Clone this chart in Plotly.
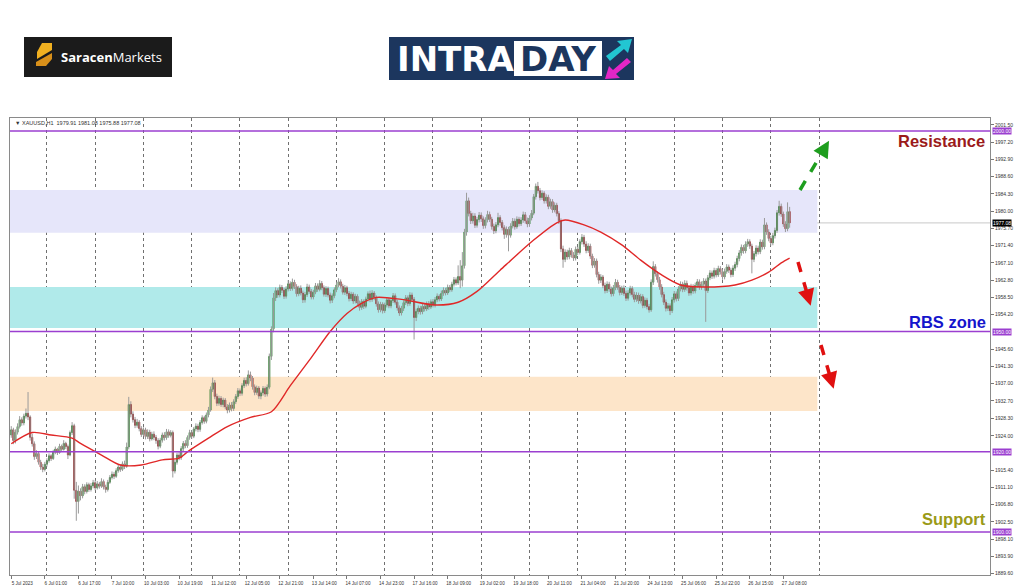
import plotly.graph_objects as go

# ---------------- data (XAUUSD H1) ----------------
opens = [
    1924.2, 1925.5, 1922.8, 1924.9, 1926.3, 1928.0, 1927.2, 1928.9, 1929.6, 1928.7,
    1923.6, 1922.0, 1918.8, 1919.6, 1917.4, 1916.2, 1915.6,
    1916.9, 1917.8, 1919.0, 1918.3, 1919.9, 1920.7, 1919.8, 1921.4, 1920.6, 1922.1,
    1921.3, 1919.2, 1924.8, 1926.5,
    1910.4, 1907.6, 1910.2, 1909.0, 1911.3, 1910.1, 1911.8, 1910.6, 1911.5,
    1912.3, 1911.0, 1912.0, 1911.4, 1912.6, 1911.2, 1910.6,
    1912.4, 1913.6, 1914.4, 1913.9, 1915.3, 1916.2, 1915.6, 1917.0,
    1916.4, 1921.2, 1931.8,
    1929.4, 1928.0, 1926.6, 1927.4, 1925.8, 1924.3, 1925.5, 1923.8, 1924.9, 1923.2, 1924.4,
    1923.6, 1922.8, 1921.4, 1922.9, 1924.2, 1923.5, 1925.0, 1924.1, 1924.8,
    1915.2, 1917.4, 1919.2, 1918.6, 1920.8, 1922.1, 1921.5,
    1923.6, 1924.8, 1923.9, 1925.7, 1926.4, 1925.6, 1927.3, 1928.5, 1927.6, 1929.2,
    1930.4, 1935.6, 1937.2, 1933.8,
    1932.1, 1933.3, 1931.8, 1932.9, 1931.2, 1930.4, 1931.7, 1930.8,
    1932.5, 1933.8, 1935.2, 1934.6, 1936.5, 1937.8, 1937.0, 1939.2,
    1938.4, 1936.2, 1934.8, 1935.9, 1933.9, 1934.7, 1935.8, 1934.4,
    1936.1, 1943.8, 1950.6,
    1958.4, 1960.2, 1959.1, 1961.0, 1960.3, 1958.8, 1960.6, 1961.9, 1960.7, 1962.3,
    1961.2, 1959.4, 1960.8, 1959.6, 1957.9, 1959.2, 1961.1, 1960.0, 1958.6, 1959.8,
    1961.4, 1960.5, 1962.0, 1960.9, 1959.3, 1960.7, 1959.1, 1957.8, 1958.9, 1960.4,
    1961.6, 1962.4, 1961.3, 1959.8, 1960.9,
    1959.5, 1958.2, 1959.3, 1957.6, 1958.8, 1957.1, 1956.0, 1957.5, 1956.3, 1958.1,
    1959.4, 1958.0, 1959.6, 1958.5, 1956.9, 1955.4, 1956.8, 1955.2, 1956.6, 1957.9,
    1956.4, 1957.7, 1958.9, 1957.3, 1955.9, 1954.6, 1955.8, 1957.2, 1958.4, 1957.0, 1959.1, 1958.0,
    1953.5, 1955.0, 1955.8, 1954.9, 1956.3, 1955.6, 1956.9, 1956.1, 1957.4,
    1956.6, 1957.9, 1958.8, 1958.1, 1959.5, 1960.3, 1959.6, 1961.0, 1960.4, 1961.8, 1962.9, 1962.1, 1963.7,
    1962.8, 1966.4, 1974.8,
    1982.6, 1979.4, 1977.6, 1978.8, 1976.5, 1977.9, 1979.0,
    1978.1, 1976.4, 1977.8, 1979.2, 1978.0, 1976.2, 1975.1, 1976.6, 1978.4, 1977.2, 1975.9, 1974.2, 1975.5,
    1974.0, 1976.3, 1977.5, 1976.1, 1978.0, 1976.9, 1977.8, 1979.1, 1977.6, 1976.8, 1978.3,
    1979.5, 1983.6, 1986.2, 1985.1,
    1983.4, 1984.5, 1982.6, 1983.5, 1981.2, 1982.4, 1980.3, 1981.5, 1979.4,
    1977.6, 1970.6,
    1968.0, 1969.8, 1968.6, 1970.2, 1969.1, 1968.3, 1970.5,
    1969.7, 1972.4, 1973.5,
    1971.8, 1970.2, 1971.3, 1968.8, 1966.5, 1967.6, 1964.2, 1962.8,
    1963.6, 1961.5, 1960.2, 1961.8, 1960.6, 1959.4, 1960.9, 1962.3, 1961.0, 1959.7,
    1960.8, 1959.5, 1958.3, 1959.6, 1960.7, 1959.2, 1958.0, 1959.1, 1957.6,
    1958.7, 1956.5, 1957.8, 1956.2, 1955.4, 1962.3,
    1966.2, 1964.4, 1962.9, 1961.1, 1959.2, 1957.3, 1955.8, 1956.4,
    1955.2, 1957.9, 1959.4, 1958.2, 1960.6, 1961.8, 1960.5, 1962.0, 1960.9, 1959.6, 1961.2, 1960.1, 1961.5, 1962.4,
    1961.1, 1961.8, 1962.6, 1960.2,
    1963.4, 1964.6, 1963.8, 1965.2, 1964.1, 1965.7, 1964.9, 1963.6, 1965.0, 1966.1, 1965.3, 1964.2, 1965.8,
    1966.7, 1968.2, 1969.6, 1971.0, 1970.1, 1971.8, 1972.4, 1971.3,
    1968.0, 1969.4, 1970.8, 1969.9, 1972.3, 1971.1,
    1976.6, 1974.8, 1973.2, 1972.1, 1973.9,
    1975.2, 1979.6, 1981.2, 1979.3, 1976.8, 1975.6, 1979.91,
]

highs = [
    1926.4, 1926.0, 1925.6, 1927.1, 1928.9, 1928.6, 1929.5, 1930.8, 1934.9, 1929.1,
    1924.5, 1922.6, 1920.4, 1920.1, 1918.0, 1917.0, 1917.5,
    1918.4, 1919.6, 1919.4, 1920.5, 1921.3, 1921.0, 1922.0, 1921.8, 1922.9, 1922.5,
    1921.8, 1925.3, 1927.4, 1927.0,
    1912.5, 1911.6, 1910.9, 1912.0, 1911.9, 1912.4, 1912.3, 1912.2, 1913.0,
    1912.9, 1912.7, 1912.5, 1913.4, 1913.1, 1911.8, 1913.0,
    1914.2, 1915.1, 1915.0, 1915.9, 1916.8, 1916.9, 1917.6, 1917.8,
    1922.3, 1933.7, 1932.6,
    1930.1, 1928.7, 1928.2, 1927.9, 1926.4, 1926.1, 1926.0, 1925.6, 1925.5, 1925.0, 1925.1,
    1924.2, 1923.4, 1923.5, 1924.8, 1924.9, 1925.7, 1925.6, 1925.4, 1925.3,
    1918.0, 1919.8, 1920.0, 1921.4, 1922.7, 1922.9, 1924.1,
    1925.5, 1925.4, 1926.2, 1927.1, 1927.0, 1927.9, 1929.1, 1929.0, 1929.8, 1931.2,
    1936.3, 1938.5, 1937.9, 1934.5,
    1934.0, 1933.9, 1933.5, 1933.4, 1931.9, 1932.3, 1932.4, 1933.1,
    1934.4, 1935.9, 1935.8, 1937.1, 1938.5, 1938.6, 1940.3, 1940.0,
    1938.9, 1936.8, 1936.5, 1936.4, 1935.3, 1936.4, 1936.3, 1936.8,
    1944.5, 1951.3, 1959.6,
    1961.0, 1960.8, 1961.7, 1961.6, 1960.9, 1961.3, 1962.8, 1962.5, 1963.2, 1962.9,
    1961.8, 1961.4, 1961.5, 1960.2, 1959.9, 1961.9, 1961.7, 1960.6, 1960.4, 1962.1,
    1962.0, 1962.8, 1962.6, 1961.5, 1961.3, 1961.2, 1959.7, 1959.5, 1961.0, 1962.3,
    1963.3, 1963.0, 1961.9, 1961.6, 1961.4,
    1960.1, 1959.9, 1959.8, 1959.4, 1959.3, 1957.7, 1958.1, 1958.0, 1958.7, 1960.0,
    1960.2, 1960.3, 1960.1, 1959.0, 1957.5, 1957.4, 1957.3, 1957.2, 1958.5, 1958.4,
    1958.3, 1959.6, 1959.5, 1957.9, 1956.5, 1956.4, 1957.8, 1959.1, 1959.0, 1959.8, 1959.7, 1958.6,
    1955.7, 1956.5, 1956.4, 1956.9, 1956.9, 1957.5, 1957.6, 1958.0, 1958.1,
    1958.6, 1959.5, 1959.3, 1960.2, 1961.0, 1960.9, 1961.7, 1961.6, 1962.4, 1963.6, 1963.5, 1966.5, 1967.8,
    1969.8, 1975.6, 1984.6,
    1983.4, 1980.1, 1979.6, 1979.5, 1978.6, 1979.8, 1979.7,
    1978.7, 1978.5, 1980.1, 1979.9, 1978.6, 1976.9, 1977.3, 1979.6, 1979.0, 1977.8, 1976.5, 1976.2, 1976.1,
    1977.0, 1978.3, 1978.2, 1978.7, 1978.6, 1978.5, 1979.9, 1979.8, 1978.4, 1979.0, 1980.3,
    1984.3, 1986.9, 1987.3, 1985.8,
    1985.2, 1985.0, 1984.2, 1984.1, 1983.1, 1983.0, 1982.2, 1982.1, 1980.0,
    1978.2, 1971.4,
    1970.5, 1970.4, 1970.9, 1970.8, 1969.8, 1971.2, 1971.1,
    1973.0, 1974.3, 1974.1,
    1972.5, 1972.0, 1971.9, 1969.4, 1968.3, 1968.2, 1964.9, 1964.3,
    1964.1, 1962.2, 1962.5, 1962.4, 1961.2, 1961.6, 1963.1, 1962.9, 1961.6, 1961.4,
    1961.5, 1960.2, 1960.3, 1961.4, 1961.3, 1959.9, 1959.8, 1959.7, 1959.4,
    1959.3, 1958.5, 1958.4, 1956.9, 1963.0, 1967.5,
    1966.8, 1965.0, 1963.6, 1961.8, 1959.9, 1958.0, 1957.1, 1957.0,
    1958.6, 1960.1, 1960.0, 1961.3, 1962.5, 1962.4, 1962.8, 1962.7, 1961.5, 1961.9, 1961.8, 1962.2, 1963.1, 1963.0,
    1962.5, 1963.3, 1963.2, 1964.1,
    1965.3, 1965.2, 1965.9, 1965.8, 1966.4, 1966.3, 1965.5, 1965.7, 1966.8, 1966.7, 1965.9, 1966.5, 1967.4,
    1968.9, 1970.3, 1971.7, 1971.6, 1972.5, 1973.1, 1973.0, 1971.9,
    1970.1, 1971.5, 1971.4, 1973.0, 1972.9, 1978.3,
    1977.2, 1975.5, 1973.9, 1974.6, 1975.9,
    1980.3, 1982.6, 1981.9, 1979.9, 1977.5, 1982.2, 1981.08,
]

lows = [
    1923.5, 1921.9, 1922.1, 1924.3, 1925.8, 1926.5, 1926.6, 1928.3, 1927.9, 1922.8,
    1921.3, 1918.0, 1918.2, 1916.8, 1915.5, 1914.9, 1915.1,
    1916.3, 1917.3, 1917.7, 1918.0, 1919.4, 1919.2, 1919.5, 1920.0, 1920.3, 1920.7,
    1918.2, 1918.9, 1924.2, 1908.3,
    1902.8, 1904.6, 1907.9, 1908.4, 1909.4, 1909.6, 1910.0, 1910.1, 1910.9,
    1910.4, 1910.6, 1910.8, 1911.0, 1910.6, 1909.8, 1910.1,
    1912.0, 1913.1, 1913.2, 1913.5, 1914.8, 1915.0, 1915.2, 1915.7,
    1916.0, 1920.6, 1928.6,
    1927.3, 1925.9, 1926.0, 1925.1, 1923.7, 1923.9, 1923.1, 1923.2, 1922.6, 1922.8, 1922.9,
    1922.0, 1920.6, 1920.9, 1922.3, 1922.8, 1923.0, 1923.5, 1923.6, 1913.6,
    1914.6, 1916.8, 1917.9, 1918.0, 1920.2, 1920.9, 1921.0,
    1923.0, 1923.2, 1923.4, 1925.1, 1924.9, 1925.0, 1926.8, 1927.0, 1927.1, 1928.6,
    1930.0, 1934.9, 1933.1, 1931.4,
    1931.5, 1931.2, 1931.1, 1930.6, 1929.6, 1929.8, 1930.1, 1930.2,
    1931.9, 1933.2, 1933.9, 1934.0, 1935.9, 1936.3, 1936.5, 1937.6,
    1935.5, 1934.1, 1934.2, 1933.2, 1933.1, 1934.0, 1933.7, 1933.8,
    1935.6, 1942.9, 1949.8,
    1957.6, 1958.4, 1958.5, 1959.6, 1958.1, 1958.2, 1960.0, 1960.1, 1960.2, 1960.6,
    1958.7, 1958.8, 1959.0, 1957.1, 1957.2, 1958.6, 1959.4, 1958.0, 1958.0, 1959.3,
    1959.9, 1960.0, 1960.3, 1958.7, 1958.6, 1958.5, 1957.0, 1957.1, 1958.3, 1959.8,
    1961.0, 1960.7, 1959.2, 1959.1, 1958.8,
    1957.5, 1957.6, 1956.9, 1957.0, 1956.4, 1955.2, 1955.4, 1955.6, 1955.8, 1957.5,
    1957.3, 1957.4, 1957.8, 1956.2, 1954.7, 1954.8, 1954.5, 1954.6, 1956.0, 1955.8,
    1955.8, 1957.1, 1956.7, 1955.2, 1953.9, 1954.0, 1955.1, 1956.6, 1956.3, 1956.4, 1957.4, 1948.0,
    1952.6, 1954.3, 1954.2, 1954.3, 1955.0, 1955.1, 1955.4, 1955.6, 1956.0,
    1956.0, 1957.3, 1957.5, 1957.6, 1958.9, 1959.0, 1959.1, 1959.8, 1959.9, 1961.2, 1961.5, 1961.6, 1960.8,
    1961.2, 1965.7, 1973.9,
    1978.7, 1976.8, 1976.9, 1975.8, 1975.9, 1977.2, 1977.3,
    1975.6, 1975.7, 1977.2, 1977.3, 1975.4, 1974.3, 1974.5, 1976.0, 1976.4, 1975.2, 1973.1, 1973.4, 1970.0,
    1973.4, 1975.7, 1975.4, 1975.6, 1976.2, 1976.3, 1977.1, 1976.9, 1976.0, 1976.1, 1977.7,
    1979.0, 1982.9, 1984.4, 1982.7,
    1982.8, 1981.9, 1981.9, 1980.5, 1980.6, 1979.6, 1979.7, 1978.7, 1976.8,
    1969.8, 1965.9,
    1967.3, 1967.9, 1968.0, 1968.4, 1967.6, 1967.7, 1969.0,
    1969.2, 1971.7, 1971.1,
    1969.5, 1969.6, 1968.1, 1965.8, 1965.9, 1963.5, 1961.9, 1962.1,
    1960.8, 1959.5, 1959.6, 1959.9, 1958.7, 1958.8, 1960.3, 1960.4, 1959.0, 1959.1,
    1958.9, 1957.6, 1957.7, 1959.0, 1958.5, 1957.3, 1957.4, 1956.9, 1957.0,
    1955.8, 1955.9, 1955.5, 1954.7, 1954.9, 1961.6,
    1963.7, 1962.2, 1960.4, 1958.5, 1956.6, 1955.0, 1955.1, 1954.1,
    1954.6, 1957.2, 1957.5, 1957.6, 1960.0, 1959.8, 1959.9, 1960.2, 1958.9, 1959.0, 1959.4, 1959.5, 1960.9, 1960.4,
    1960.4, 1961.1, 1952.4, 1959.6,
    1962.8, 1963.1, 1963.2, 1963.5, 1963.6, 1964.2, 1962.9, 1963.0, 1964.4, 1964.6, 1963.5, 1963.6, 1965.1,
    1966.0, 1967.5, 1968.9, 1969.4, 1969.5, 1971.1, 1970.6, 1964.5,
    1967.3, 1968.7, 1969.2, 1969.3, 1970.4, 1970.5,
    1974.1, 1972.5, 1971.4, 1971.5, 1973.2,
    1974.6, 1978.9, 1978.6, 1976.1, 1974.8, 1975.0, 1975.88,
]

closes = [
    1925.5, 1922.8, 1924.9, 1926.3, 1928.0, 1927.2, 1928.9, 1929.6, 1928.7, 1923.6,
    1922.0, 1918.8, 1919.6, 1917.4, 1916.2, 1915.6, 1916.9,
    1917.8, 1919.0, 1918.3, 1919.9, 1920.7, 1919.8, 1921.4, 1920.6, 1922.1, 1921.3,
    1919.2, 1924.8, 1926.5, 1910.4,
    1907.6, 1910.2, 1909.0, 1911.3, 1910.1, 1911.8, 1910.6, 1911.5, 1912.3,
    1911.0, 1912.0, 1911.4, 1912.6, 1911.2, 1910.6, 1912.4,
    1913.6, 1914.4, 1913.9, 1915.3, 1916.2, 1915.6, 1917.0, 1916.4,
    1921.2, 1931.8, 1929.4,
    1928.0, 1926.6, 1927.4, 1925.8, 1924.3, 1925.5, 1923.8, 1924.9, 1923.2, 1924.4, 1923.6,
    1922.8, 1921.4, 1922.9, 1924.2, 1923.5, 1925.0, 1924.1, 1924.8, 1915.2,
    1917.4, 1919.2, 1918.6, 1920.8, 1922.1, 1921.5, 1923.6,
    1924.8, 1923.9, 1925.7, 1926.4, 1925.6, 1927.3, 1928.5, 1927.6, 1929.2, 1930.4,
    1935.6, 1937.2, 1933.8, 1932.1,
    1933.3, 1931.8, 1932.9, 1931.2, 1930.4, 1931.7, 1930.8, 1932.5,
    1933.8, 1935.2, 1934.6, 1936.5, 1937.8, 1937.0, 1939.2, 1938.4,
    1936.2, 1934.8, 1935.9, 1933.9, 1934.7, 1935.8, 1934.4, 1936.1,
    1943.8, 1950.6, 1958.4,
    1960.2, 1959.1, 1961.0, 1960.3, 1958.8, 1960.6, 1961.9, 1960.7, 1962.3, 1961.2,
    1959.4, 1960.8, 1959.6, 1957.9, 1959.2, 1961.1, 1960.0, 1958.6, 1959.8, 1961.4,
    1960.5, 1962.0, 1960.9, 1959.3, 1960.7, 1959.1, 1957.8, 1958.9, 1960.4, 1961.6,
    1962.4, 1961.3, 1959.8, 1960.9, 1959.5,
    1958.2, 1959.3, 1957.6, 1958.8, 1957.1, 1956.0, 1957.5, 1956.3, 1958.1, 1959.4,
    1958.0, 1959.6, 1958.5, 1956.9, 1955.4, 1956.8, 1955.2, 1956.6, 1957.9, 1956.4,
    1957.7, 1958.9, 1957.3, 1955.9, 1954.6, 1955.8, 1957.2, 1958.4, 1957.0, 1959.1, 1958.0, 1953.5,
    1955.0, 1955.8, 1954.9, 1956.3, 1955.6, 1956.9, 1956.1, 1957.4, 1956.6,
    1957.9, 1958.8, 1958.1, 1959.5, 1960.3, 1959.6, 1961.0, 1960.4, 1961.8, 1962.9, 1962.1, 1963.7, 1962.8,
    1966.4, 1974.8, 1982.6,
    1979.4, 1977.6, 1978.8, 1976.5, 1977.9, 1979.0, 1978.1,
    1976.4, 1977.8, 1979.2, 1978.0, 1976.2, 1975.1, 1976.6, 1978.4, 1977.2, 1975.9, 1974.2, 1975.5, 1974.0,
    1976.3, 1977.5, 1976.1, 1978.0, 1976.9, 1977.8, 1979.1, 1977.6, 1976.8, 1978.3, 1979.5,
    1983.6, 1986.2, 1985.1, 1983.4,
    1984.5, 1982.6, 1983.5, 1981.2, 1982.4, 1980.3, 1981.5, 1979.4, 1977.6,
    1970.6, 1968.0,
    1969.8, 1968.6, 1970.2, 1969.1, 1968.3, 1970.5, 1969.7,
    1972.4, 1973.5, 1971.8,
    1970.2, 1971.3, 1968.8, 1966.5, 1967.6, 1964.2, 1962.8, 1963.6,
    1961.5, 1960.2, 1961.8, 1960.6, 1959.4, 1960.9, 1962.3, 1961.0, 1959.7, 1960.8,
    1959.5, 1958.3, 1959.6, 1960.7, 1959.2, 1958.0, 1959.1, 1957.6, 1958.7,
    1956.5, 1957.8, 1956.2, 1955.4, 1962.3, 1966.2,
    1964.4, 1962.9, 1961.1, 1959.2, 1957.3, 1955.8, 1956.4, 1955.2,
    1957.9, 1959.4, 1958.2, 1960.6, 1961.8, 1960.5, 1962.0, 1960.9, 1959.6, 1961.2, 1960.1, 1961.5, 1962.4, 1961.1,
    1961.8, 1962.6, 1960.2, 1963.4,
    1964.6, 1963.8, 1965.2, 1964.1, 1965.7, 1964.9, 1963.6, 1965.0, 1966.1, 1965.3, 1964.2, 1965.8, 1966.7,
    1968.2, 1969.6, 1971.0, 1970.1, 1971.8, 1972.4, 1971.3, 1968.0,
    1969.4, 1970.8, 1969.9, 1972.3, 1971.1, 1976.6,
    1974.8, 1973.2, 1972.1, 1973.9, 1975.2,
    1979.6, 1981.2, 1979.3, 1976.8, 1975.6, 1979.9, 1977.08,
]

# moving average (bar index -> value)
ma_bar = [0, 10, 19, 29, 33, 43, 52, 62, 72, 80, 84, 94, 103, 114, 124, 133, 143, 152,
          160, 167, 174, 186, 202, 213, 222, 233, 249, 260, 264, 273, 281, 291, 300,
          310, 319, 329, 345, 353, 361, 367, 371]
ma_val = [1922.0, 1924.8, 1924.2, 1923.4, 1922.1, 1919.2, 1916.7, 1916.7, 1918.0, 1918.4,
          1920.0, 1923.4, 1926.3, 1928.6, 1930.0, 1936.5, 1943.5, 1950.0, 1954.5, 1957.0,
          1958.5, 1958.0, 1956.6, 1957.3, 1960.0, 1965.3, 1972.8, 1977.1, 1977.8, 1976.6,
          1974.8, 1971.6, 1967.8, 1964.1, 1961.6, 1961.1, 1961.6, 1962.8, 1964.8, 1967.1,
          1968.3]

x_tick_bars = [0, 16, 32, 48, 64, 80, 96, 112, 128, 144, 160, 176, 192, 208, 224, 240,
               256, 272, 288, 304, 320, 336, 352, 368]
x_tick_labels = ["5 Jul 2023", "6 Jul 01:00", "6 Jul 17:00", "7 Jul 10:00", "10 Jul 03:00",
                 "10 Jul 19:00", "11 Jul 12:00", "12 Jul 05:00", "12 Jul 21:00", "13 Jul 14:00",
                 "14 Jul 07:00", "14 Jul 23:00", "17 Jul 16:00", "18 Jul 09:00", "19 Jul 02:00",
                 "19 Jul 18:00", "20 Jul 11:00", "21 Jul 04:00", "21 Jul 20:00", "24 Jul 13:00",
                 "25 Jul 06:00", "25 Jul 22:00", "26 Jul 15:00", "27 Jul 08:00"]
day_grid_bars = [17, 40, 63, 86, 109, 132, 155, 178, 201, 224, 247, 270, 293, 316, 339, 362, 385]

y_tick_vals = [2001.5, 1997.2, 1992.9, 1988.6, 1984.3, 1980.0, 1975.7, 1971.4, 1967.1, 1962.8,
               1958.5, 1954.2, 1945.6, 1941.3, 1937.0, 1932.7, 1928.3, 1924.0, 1915.4, 1911.1,
               1906.8, 1902.5, 1898.1, 1893.9, 1889.6]
y_tick_labels = ["%.2f" % v for v in y_tick_vals]

level_prices = [2000.0, 1950.0, 1920.0, 1900.0]
zones = [(1974.6, 1985.3, "#e6e6fa"), (1950.9, 1961.1, "#b0eaea"), (1930.2, 1938.7, "#fde5c9")]
last_price = 1977.08
header_text = "▼ XAUUSD,H1  1979.91 1981.08 1975.88 1977.08"

# ---------------- layout helpers ----------------
W, H = 1024, 587
PL, PR, PT, PB = 10, 990, 118, 575
X_RANGE = [-0.6, 466.5]
Y_RANGE = [1889.28, 2003.24]
ZONE_END = 384.2


def fx(p):
    return (p - PL) / (PR - PL)


def fy(p):
    return (PB - p) / (PB - PT)


def path(points):
    s = "M " + " L ".join("%.5f,%.5f" % (fx(a), fy(b)) for a, b in points)
    return s + " Z"


bars = list(range(len(closes)))
assert len(opens) == len(highs) == len(lows) == len(closes) == 372

wick_x, wick_y = [], []
for i, h, l in zip(bars, highs, lows):
    wick_x += [i, i, None]
    wick_y += [l, h, None]

fig = go.Figure()
fig.add_trace(go.Scatter(x=wick_x, y=wick_y, mode="lines",
                         line=dict(color="#9a9a9a", width=1), hoverinfo="skip"))
fig.add_trace(go.Candlestick(
    x=bars, open=opens, close=closes,
    high=[max(o, c) for o, c in zip(opens, closes)],
    low=[min(o, c) for o, c in zip(opens, closes)],
    increasing=dict(line=dict(color="#1c701c", width=0.8), fillcolor="#279227"),
    decreasing=dict(line=dict(color="#8a1212", width=0.8), fillcolor="#a01515"),
    whiskerwidth=0))
fig.add_trace(go.Scatter(x=ma_bar, y=ma_val, mode="lines",
                         line=dict(color="#e02828", width=1.4, shape="spline", smoothing=0.8)))

shapes = []
for y0, y1, col in zones:
    shapes.append(dict(type="rect", xref="x", yref="y", x0=X_RANGE[0], x1=ZONE_END,
                       y0=y0, y1=y1, fillcolor=col, line=dict(width=0), layer="between"))
shapes.append(dict(type="line", xref="paper", yref="y", x0=0, x1=1, y0=last_price,
                   y1=last_price, line=dict(color="#c8c8c8", width=1), layer="between"))
for lv in level_prices:
    shapes.append(dict(type="line", xref="paper", yref="y", x0=0, x1=1, y0=lv, y1=lv,
                       line=dict(color="#9b3fd0", width=1.6)))

# dashed arrows (shafts)
arrows = [((800, 190), (826, 146), "#1e9e1e"),
          ((798, 262), (809, 300), "#e01010"),
          ((821, 345), (832, 383), "#e01010")]
for (ax0, ay0), (ax1, ay1), col in arrows:
    shapes.append(dict(type="line", xref="paper", yref="paper", x0=fx(ax0), y0=fy(ay0),
                       x1=fx(ax1), y1=fy(ay1), line=dict(color=col, width=3.5, dash="dash")))

# logos
shapes.append(dict(type="rect", xref="paper", yref="paper", x0=fx(24), x1=fx(172),
                   y0=fy(77), y1=fy(37), fillcolor="#1b1b1b", line=dict(width=0)))
shapes.append(dict(type="path", xref="paper", yref="paper", fillcolor="#f0b020",
                   line=dict(width=0),
                   path=path([(42, 43), (52, 43), (52, 50), (37, 59), (37, 52)])))
shapes.append(dict(type="path", xref="paper", yref="paper", fillcolor="#d8901a",
                   line=dict(width=0),
                   path=path([(52, 53), (52, 59), (46, 66), (36, 66), (36, 62)])))
shapes.append(dict(type="rect", xref="paper", yref="paper", x0=fx(389), x1=fx(634),
                   y0=fy(80), y1=fy(37), fillcolor="#1c365e", line=dict(width=0)))
shapes.append(dict(type="rect", xref="paper", yref="paper", x0=fx(514), x1=fx(602),
                   y0=fy(76), y1=fy(41), fillcolor="#ffffff", line=dict(width=0)))
shapes.append(dict(type="path", xref="paper", yref="paper", fillcolor="#22c6d2",
                   line=dict(width=0),
                   path=path([(606, 56), (610, 61), (624, 49), (628, 53), (632, 39),
                              (617, 41), (621, 45)])))
shapes.append(dict(type="path", xref="paper", yref="paper", fillcolor="#e426c6",
                   line=dict(width=0),
                   path=path([(631, 62), (627, 58), (613, 70), (609, 66), (605, 79),
                              (620, 78), (616, 74)])))

ann = []
for (ax0, ay0), (ax1, ay1), col in arrows:
    dx, dy = ax1 - ax0, ay1 - ay0
    n = (dx * dx + dy * dy) ** 0.5
    tipx, tipy = ax1 + dx / n * 6, ay1 + dy / n * 6
    ann.append(dict(xref="paper", yref="paper", x=fx(tipx), y=fy(tipy), text="",
                    showarrow=True, arrowhead=2, arrowsize=1.1, arrowwidth=3,
                    arrowcolor=col, ax=-dx / n * 9, ay=-dy / n * 9, standoff=0))

label_font = "Liberation Sans"
ann.append(dict(xref="paper", yref="paper", x=fx(987), y=fy(141), text="<b>Resistance</b>",
                showarrow=False, xanchor="right", yanchor="middle",
                font=dict(family=label_font, size=16.5, color="#9b1a1a")))
ann.append(dict(xref="paper", yref="paper", x=fx(988), y=fy(322), text="<b>RBS zone</b>",
                showarrow=False, xanchor="right", yanchor="middle",
                font=dict(family=label_font, size=16.5, color="#1515cc")))
ann.append(dict(xref="paper", yref="paper", x=fx(988), y=fy(519), text="<b>Support</b>",
                showarrow=False, xanchor="right", yanchor="middle",
                font=dict(family=label_font, size=16.5, color="#9a9a18")))

for lv in level_prices:
    ann.append(dict(xref="paper", yref="y", x=1, y=lv, xanchor="left", yanchor="middle",
                    xshift=2, text="%.2f" % lv, showarrow=False, bgcolor="#9b3fd0",
                    borderpad=0, font=dict(family=label_font, size=5, color="#ffffff")))
ann.append(dict(xref="paper", yref="y", x=1, y=last_price, xanchor="left", yanchor="middle",
                xshift=2, text="%.2f" % last_price, showarrow=False, bgcolor="#000000",
                borderpad=0, font=dict(family=label_font, size=5, color="#ffffff")))

ann.append(dict(xref="paper", yref="paper", x=fx(13), y=fy(123), text=header_text,
                showarrow=False, xanchor="left", yanchor="middle",
                font=dict(family=label_font, size=5.5, color="#333333")))

# logo texts
ann.append(dict(xref="paper", yref="paper", x=fx(59), y=fy(57),
                text="<b>Saracen</b>Markets", showarrow=False, xanchor="left",
                yanchor="middle", font=dict(family="Open Sans", size=13, color="#ffffff")))
ann.append(dict(xref="paper", yref="paper", x=fx(455), y=fy(59), text="<b>INTRA</b>",
                showarrow=False, xanchor="center", yanchor="middle",
                font=dict(family="DejaVu Sans", size=34, color="#ffffff")))
ann.append(dict(xref="paper", yref="paper", x=fx(558), y=fy(59), text="<b>DAY</b>",
                showarrow=False, xanchor="center", yanchor="middle",
                font=dict(family="DejaVu Sans", size=34, color="#1c365e")))

fig.update_layout(
    width=W, height=H,
    margin=dict(l=PL, r=W - PR, t=PT, b=H - PB, pad=0, autoexpand=False),
    paper_bgcolor="#ffffff", plot_bgcolor="#ffffff",
    showlegend=False, hovermode=False,
    shapes=shapes, annotations=ann,
    xaxis=dict(range=X_RANGE, tickmode="array", tickvals=x_tick_bars, ticktext=x_tick_labels,
               tickfont=dict(family=label_font, size=4.6, color="#333333"),
               ticks="outside", ticklen=3, tickcolor="#777777", ticklabelshift=11,
               showline=True, linecolor="#8a8a8a", linewidth=1, mirror=True,
               showgrid=False, zeroline=False, rangeslider=dict(visible=False),
               automargin=False,
               minor=dict(tickvals=day_grid_bars, showgrid=True, gridcolor="#707070",
                          griddash="dot", gridwidth=1, ticks="")),
    yaxis=dict(range=Y_RANGE, side="right", tickmode="array", tickvals=y_tick_vals,
               ticktext=y_tick_labels,
               tickfont=dict(family=label_font, size=5, color="#333333"),
               ticks="outside", ticklen=3, tickcolor="#777777",
               showline=True, linecolor="#8a8a8a", linewidth=1, mirror=True,
               showgrid=False, zeroline=False, automargin=False),
)

# remove the default page margin so the 1024x587 figure fills the window exactly
fig.write_html("out.html", config={"displayModeBar": False},
               post_script="document.body.style.margin='0';"
                           "document.body.style.overflow='hidden';")
